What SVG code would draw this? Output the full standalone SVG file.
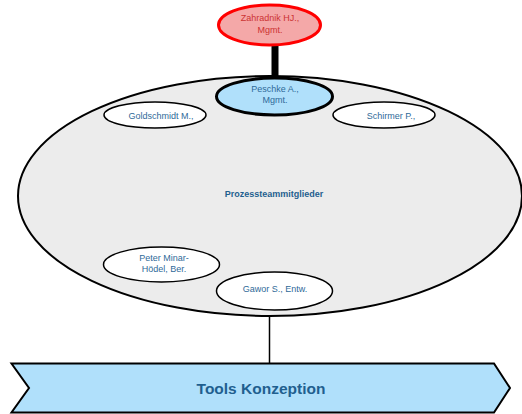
<svg xmlns="http://www.w3.org/2000/svg" width="522" height="414" viewBox="0 0 522 414">
<style>
.t{font-family:"Liberation Sans",Arial,sans-serif;font-size:9px;fill:#2f6a99;text-anchor:middle}
.b{font-weight:bold;fill:#1f5f8f}
.m{fill:#fff;stroke:#000;stroke-width:1.5}
</style>
<rect width="522" height="414" fill="#fff"/>
<g id="team">
<ellipse cx="270" cy="196" rx="252" ry="120" fill="#ececec" stroke="#000" stroke-width="2"/>
<text class="t b" x="274" y="197">Prozessteammitglieder</text>
</g>
<g id="connectors">
<line x1="275" y1="44" x2="275" y2="80" stroke="#000" stroke-width="7"/>
<line x1="269.5" y1="316" x2="269.5" y2="364" stroke="#000" stroke-width="1.5"/>
</g>
<g id="zahradnik">
<ellipse cx="269.5" cy="25" rx="51" ry="20" fill="#f4a8a8" stroke="#f00" stroke-width="3"/>
<text class="t" x="270" y="20.5" style="fill:#cc3333">Zahradnik HJ.,</text>
<text class="t" x="270" y="32.5" style="fill:#cc3333">Mgmt.</text>
</g>
<g id="peschke">
<ellipse cx="274.5" cy="96.5" rx="58" ry="18.5" fill="#b0e0fb" stroke="#000" stroke-width="3"/>
<text class="t" x="275" y="91.5">Peschke A.,</text>
<text class="t" x="275" y="102.5">Mgmt.</text>
</g>
<g id="goldschmidt">
<ellipse class="m" cx="155" cy="115" rx="51" ry="13"/>
<text class="t" x="161" y="118.5">Goldschmidt M.,</text>
</g>
<g id="schirmer">
<ellipse class="m" cx="384" cy="115" rx="51" ry="13"/>
<text class="t" x="391" y="118.5">Schirmer P.,</text>
</g>
<g id="minar">
<ellipse class="m" cx="161.5" cy="264.5" rx="58" ry="17.5"/>
<text class="t" x="164" y="260.5">Peter Minar-</text>
<text class="t" x="164" y="271.5">Hödel, Ber.</text>
</g>
<g id="gawor">
<ellipse class="m" cx="274.5" cy="291" rx="58" ry="19"/>
<text class="t" x="275" y="291.5">Gawor S., Entw.</text>
</g>
<g id="tools">
<polygon points="11.5,363.5 494,363.5 510,388 494,412.5 11.5,412.5 29,388" fill="#b0e0fb" stroke="#000" stroke-width="2"/>
<text class="t b" x="261" y="393.5" style="font-size:15.5px">Tools Konzeption</text>
</g>
</svg>
